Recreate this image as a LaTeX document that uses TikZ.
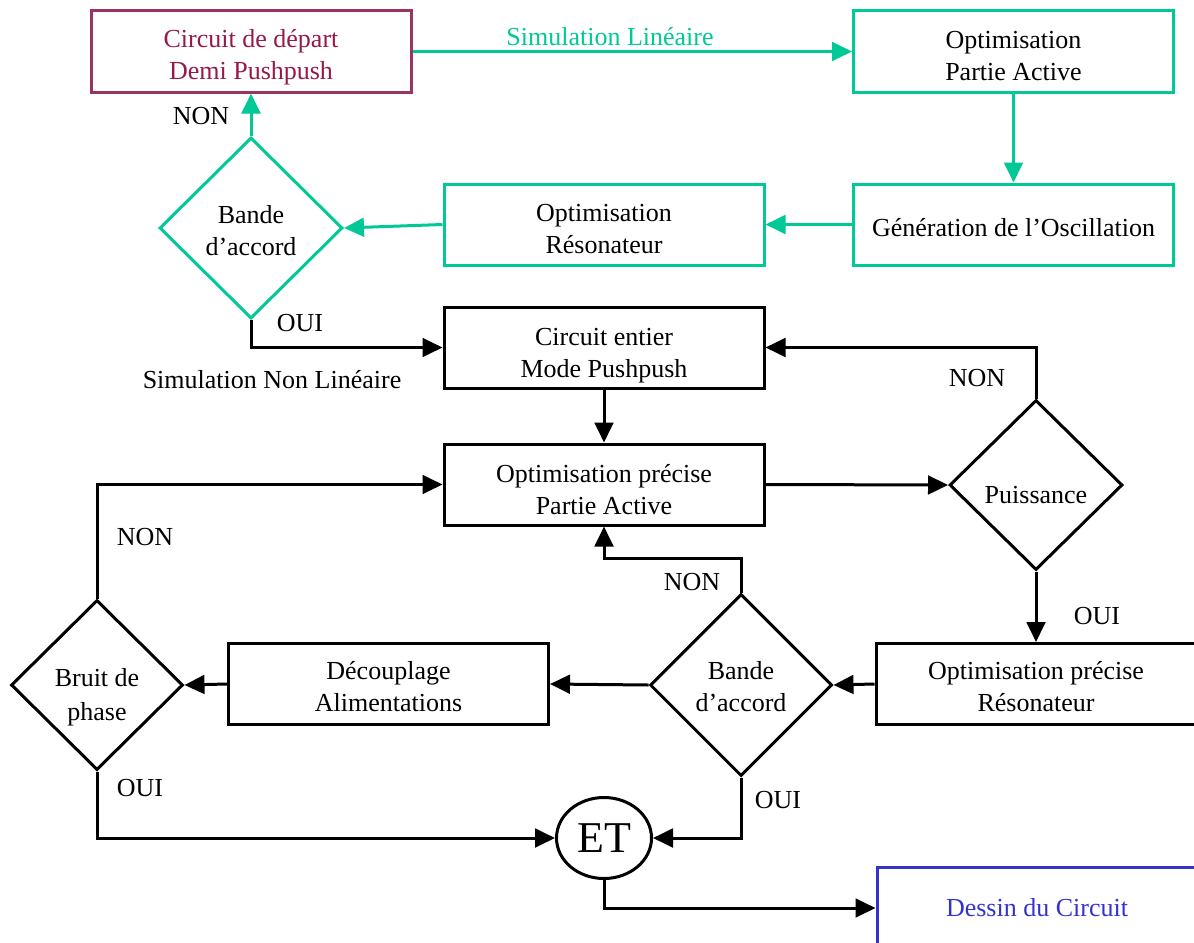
\documentclass[tikz,border=0pt]{standalone}
\usepackage{fontspec}
\setmainfont{Liberation Serif}
\usetikzlibrary{arrows.meta,shapes.geometric}
\definecolor{flowgreen}{RGB}{0,200,150}
\definecolor{flowred}{RGB}{155,50,100}
\definecolor{flowredtext}{RGB}{150,25,75}
\definecolor{flowblue}{RGB}{51,51,204}
\begin{document}
\begin{tikzpicture}[x=0.75pt,y=-0.75pt,
  line width=2.25pt,
  >={Triangle[length=15pt,width=14pt]},
  every node/.style={font=\fontsize{19.5}{24}\selectfont},
  box/.style={draw, rectangle, align=center, inner sep=0pt,
    minimum width=320*0.75pt, minimum height=81*0.75pt},
  choice/.style={draw, diamond, align=center, inner sep=0pt},
  lower/.style={text height=#1},
  lbl/.style={inner sep=0pt}]
\useasboundingbox (0,0) rectangle (1194,942);

% first stage: linear simulation
\node[box, lower=46.2pt, draw=flowred, text=flowredtext] (start) at (251,51.5) {Circuit de départ\\Demi Pushpush};
\node[box, lower=43.2pt, draw=flowgreen] (opa) at (1013.5,51.5) {Optimisation\\Partie Active};
\node[box, lower=17.7pt, draw=flowgreen] (gen) at (1013.5,224.5) {Génération de l’Oscillation};
\node[box, lower=44pt, draw=flowgreen] (ores) at (604,224.5) {Optimisation\\Résonateur};
\node[choice, lower=41.7pt, draw=flowgreen, minimum width=183*0.75pt, minimum height=181*0.75pt] (band1) at (251,228) {Bande\\d’accord};

% second stage: non-linear simulation
\node[box, lower=49.2pt] (whole) at (604,347.5) {Circuit entier\\Mode Pushpush};
\node[box, lower=45.5pt] (popa) at (604,484.5) {Optimisation précise\\Partie Active};
\node[choice, lower=28pt, minimum width=173*0.75pt, minimum height=170*0.75pt] (power) at (1036,485) {Puissance};
\node[box, lower=41.7pt] (pores) at (1036,684) {Optimisation précise\\Résonateur};
\node[choice, lower=40.2pt, minimum width=182*0.75pt, minimum height=182*0.75pt] (band2) at (741,685) {Bande\\d’accord};
\node[box, lower=41.7pt] (decoup) at (388.5,684) {Découplage\\Alimentations};
\node[choice, lower=56.7pt, minimum width=172*0.75pt, minimum height=170*0.75pt] (noise) at (97,685) {Bruit de\\[1.5pt]phase};
\node[draw, ellipse, inner sep=0pt, minimum width=95*0.75pt, minimum height=81*0.75pt,
  font=\fontsize{33}{36}\selectfont] (et) at (604,838) {ET};
\node[box, draw=flowblue, text=flowblue] (layout) at (1037,908) {Dessin du Circuit};

% linear loop connectors
\draw[->, flowgreen] (start.east) -- (opa.west);
\node[lbl, text=flowgreen] (simlin) at (610,37) {Simulation Linéaire};
\draw[->, flowgreen] (opa.south) -- (gen.north);
\draw[->, flowgreen] (gen.west) -- (ores.east);
\draw[->, flowgreen] (ores.west) -- (band1.east);
\draw[->, flowgreen] (band1.north) -- (start.south);
\node[lbl] (n1) at (201,116) {NON};

% non-linear loop connectors
\draw[->] (band1.south) |- (whole.west);
\node[lbl] (o1) at (300,323) {OUI};
\node[lbl] (snl) at (272,380) {Simulation Non Linéaire};
\draw[->] (whole.south) -- (popa.north);
\draw[->] (popa.east) -- (power.west);
\draw[->] (power.north) |- (whole.east);
\node[lbl] (n2) at (977,378) {NON};
\draw[->] (power.south) -- (pores.north);
\node[lbl] (o2) at (1097,616) {OUI};
\draw[->] (pores.west) -- (band2.east);
\draw[->] (band2.west) -- (decoup.east);
\draw[->] (decoup.west) -- (noise.east);
\draw[->] (band2.north) -- ++(0,-34) -| (popa.south);
\node[lbl] (n3) at (692,582) {NON};
\draw[->] (noise.north) |- (popa.west);
\node[lbl] (n4) at (145,537) {NON};
\draw[->] (noise.south) |- (et.west);
\node[lbl] (o3) at (140,788) {OUI};
\draw[->] (band2.south) |- (et.east);
\node[lbl] (o4) at (778,800) {OUI};
\draw[->] (et.south) |- (layout.west);
\end{tikzpicture}
\end{document}
